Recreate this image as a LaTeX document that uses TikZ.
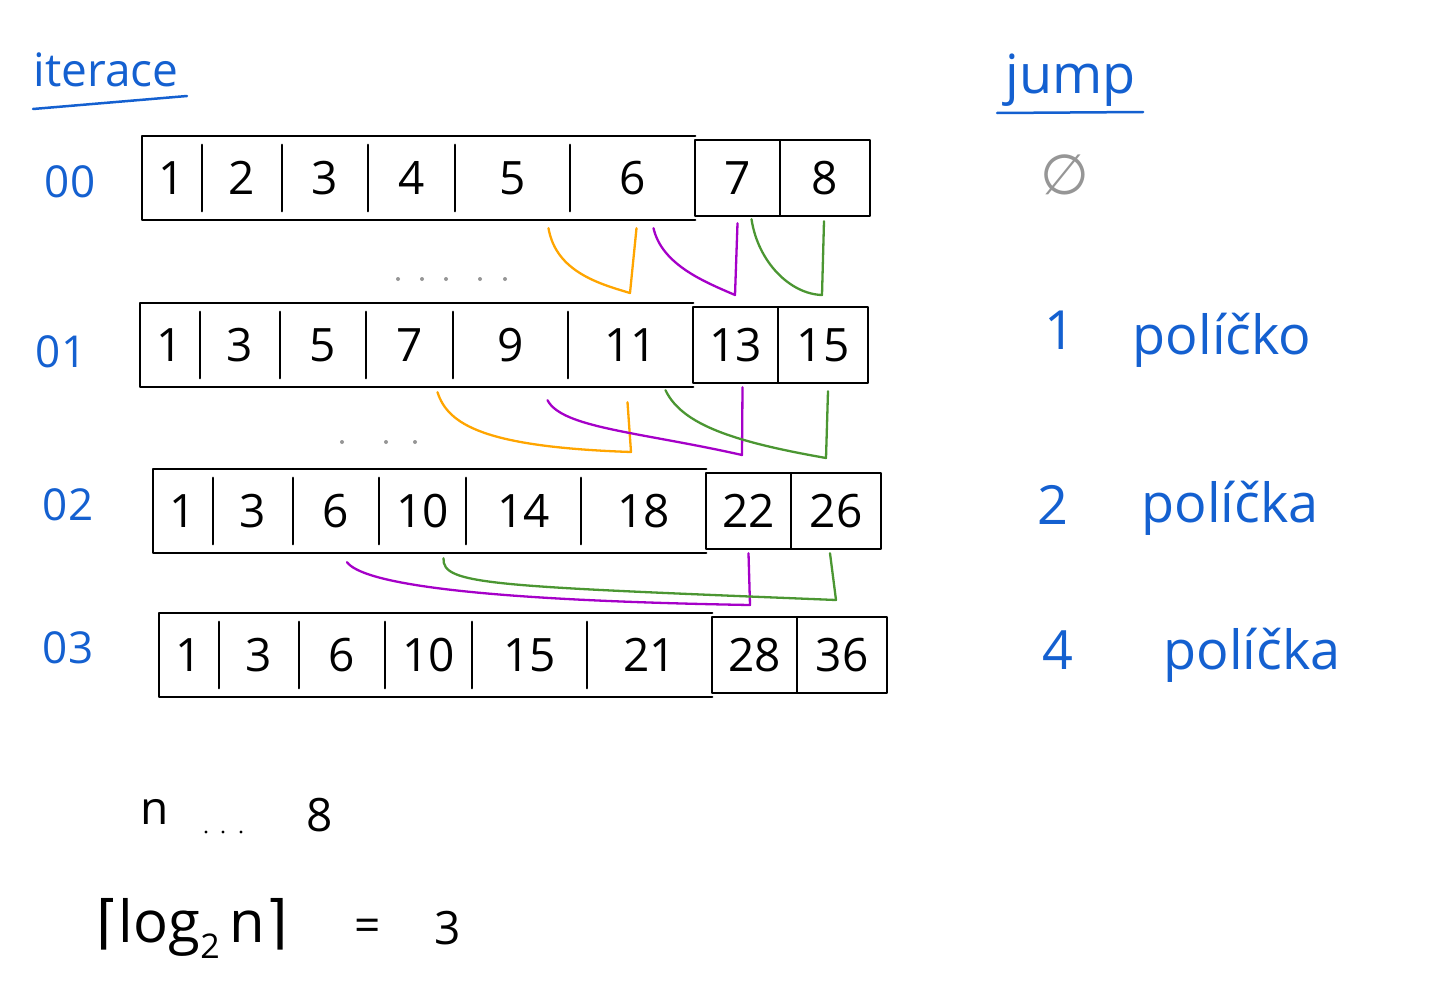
\documentclass[tikz,border=0pt]{standalone}
\usepackage{fontspec}
\setmainfont{Open Sans}
\newfontfamily\dejavu{DejaVu Sans}
\usetikzlibrary{calc}

\definecolor{penblue}{RGB}{20,96,208}
\definecolor{penorange}{RGB}{255,165,0}
\definecolor{penpurple}{RGB}{165,0,200}
\definecolor{pengreen}{RGB}{75,150,50}
\definecolor{pengray}{RGB}{150,150,150}

\begin{document}
\begin{tikzpicture}[x=1pt, y=-1pt, line cap=round, line join=round,
    every node/.style={font=\fontsize{46}{50}\selectfont},
    cell/.style={minimum height=84pt, inner sep=0pt},
    endcell/.style={draw, line width=2.4pt, minimum height=76pt, inner sep=0pt},
    boxline/.style={line width=2.4pt},
    rowlabel/.style={text=penblue, font=\fontsize{44}{48}\selectfont},
    bluetext/.style={text=penblue, font=\fontsize{54}{58}\selectfont},
    link/.style={line width=2.3pt}]
    \useasboundingbox (0,0) rectangle (1435,1001);
    \def\bounds{142,202,282,368,455,570,695,780,870}
    % Draw the four arrays
    \foreach \r/\dx/\yc/\vals in {0/0/178/{1,2,3,4,5,6,7,8},
                                  1/-2/345/{1,3,5,7,9,11,13,15},
                                  2/11/511/{1,3,6,10,14,18,22,26},
                                  3/17/655/{1,3,6,10,15,21,28,36}} {
        \foreach \v [count=\k] in \vals {
            \pgfmathsetmacro{\xl}{{\bounds}[\k-1]+\dx}
            \pgfmathsetmacro{\xr}{{\bounds}[\k]+\dx}
            \pgfmathsetmacro{\w}{\xr-\xl}
            \ifnum\k>6 \def\sty{endcell}\else\def\sty{cell}\fi
            \node[\sty, minimum width=\w pt] (r\r-\k) at ({(\xl+\xr)/2}, \yc) {\v};
        }
        \draw[boxline] (r\r-6.north east) -- (r\r-1.north west)
            -- (r\r-1.south west) -- (r\r-6.south east);
        \foreach \k in {1,...,5}
            \draw[boxline] ([yshift=-9pt]r\r-\k.north east) -- ([yshift=9pt]r\r-\k.south east);
    }
    % Row labels
    \node[rowlabel] (it0) at (70,182) {00};
    \node[rowlabel] (it1) at (61,352) {01};
    \node[rowlabel] (it2) at (68,505) {02};
    \node[rowlabel] (it3) at (68,648) {03};
    % Meeting points
    \coordinate (m01o) at (630,293);
    \coordinate (m01p) at (735,295);
    \coordinate (m01g) at (822,295);
    \coordinate (m12o) at (631,452);
    \coordinate (m12p) at (742,455);
    \coordinate (m12g) at (826,458);
    \coordinate (m23p) at (750,605);
    \coordinate (m23g) at (836,600);
    % Jump 1
    \draw[link, penorange] ($(r0-5.south)+(36,8)$) .. controls (556,272) and (600,284) .. (m01o)
        -- ($(r0-6.south)+(4,8)$);
    \draw[link, penpurple] ($(r0-6.south)+(21,8)$) .. controls (662,265) and (705,282) .. (m01p)
        -- ($(r0-7.south)+(0,6)$);
    \draw[link, pengreen] ($(r0-7.south)+(14,2)$) .. controls (758,262) and (790,294) .. (m01g)
        -- ($(r0-8.south)+(-1,4)$);
    % Jump 2
    \draw[link, penorange] ($(r1-4.south)+(28,5)$) .. controls (448,425) and (485,447) .. (m12o)
        -- ($(r1-6.south)+(-3,15)$);
    \draw[link, penpurple] ($(r1-5.south)+(37,13)$) .. controls (562,428) and (640,432) .. (m12p)
        -- ($(r1-7.south)+(7,3)$);
    \draw[link, pengreen] ($(r1-6.south)+(35,3)$) .. controls (682,425) and (735,442) .. (m12g)
        -- ($(r1-8.south)+(5,7)$);
    % Jump 4
    \draw[link, penpurple] ($(r2-3.south)+(11,9)$) .. controls (362,582) and (460,600) .. (m23p)
        -- ($(r2-7.south)+(0,3)$);
    \draw[link, pengreen] ($(r2-4.south)+(21,5)$) .. controls (442,585) and (490,586) .. (m23g)
        -- ($(r2-8.south)+(-6,3)$);
    % Dots
    \foreach \x in {398,422,446,480,505}
        \fill[pengray] (\x,279) circle (2);
    \foreach \x in {342,386,415}
        \fill[pengray] (\x,442) circle (2);
    % Headings
    \node[text=penblue, font=\fontsize{46}{50}\selectfont] (iterace) at (106,70) {iterace};
    \draw[penblue, line width=2.5pt] (33,109) -- (187,96);
    \node[text=penblue, font=\fontsize{54}{58}\selectfont] (jump) at (1071,80) {jump};
    \draw[penblue, line width=2.5pt] (997,113) -- (1143,112);
    % Jump column
    \node[text=pengray, font=\dejavu\fontsize{56}{60}\selectfont] (j0) at (1065,175) {∅};
    \node[bluetext] (j1) at (1060,330) {1};
    \node[bluetext] (p1) at (1222,340) {políčko};
    \node[bluetext] (j2) at (1053,505) {2};
    \node[bluetext] (p2) at (1230,508) {políčka};
    \node[bluetext] (j4) at (1058,650) {4};
    \node[bluetext] (p4) at (1252,655) {políčka};
    % Bottom
    \node (n) at (155,812) {n};
    \foreach \x in {206,223,241}
        \fill (\x,832) circle (1.6);
    \node (eight) at (320,815) {8};
    \node[font=\fontsize{58}{62}\selectfont] (ceil) at (192,928)
        {\dejavu ⌈\normalfont log\raisebox{-16pt}{\fontsize{34}{36}\selectfont 2}\,n\dejavu ⌉};
    \node (eq) at (368,930) {=};
    \node (three) at (448,928) {3};
\end{tikzpicture}
\end{document}
